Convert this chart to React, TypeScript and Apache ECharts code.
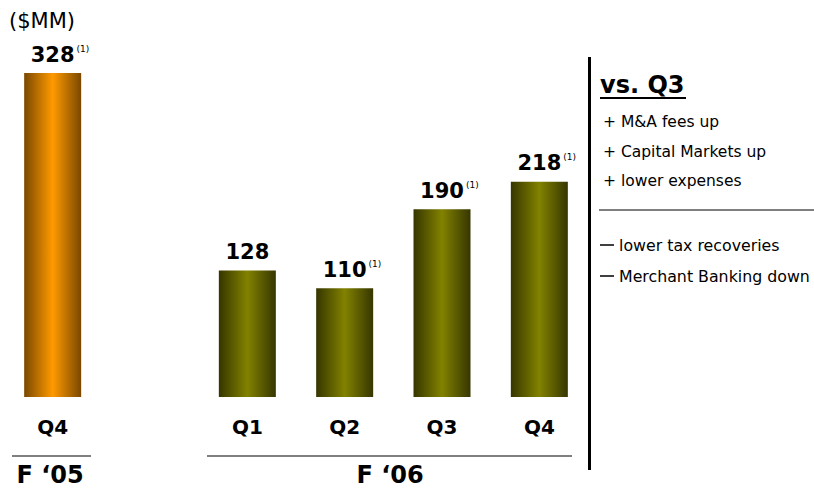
import React, { useEffect, useRef } from "react";
import * as echarts from "echarts";

const categories = ["Q4", "", "Q1", "Q2", "Q3", "Q4"];
const values: (number | null)[] = [328, null, 128, 110, 190, 218];
const hasNote = [true, false, false, true, true, true];
const isPrior = [true, false, false, false, false, false];
const yearLabels = ["F \u201805", "F \u201806"];
const panelTitle = "vs. Q3";
const positives = ["+ M&A fees up", "+ Capital Markets up", "+ lower expenses"];
const negatives = ["lower tax recoveries", "Merchant Banking down"];
const unitLabel = "($MM)";
const noteMark = "(1)";

const FONT = "DejaVu Sans, Verdana, sans-serif";

function grad(edge: string, mid: string) {
  return new echarts.graphic.LinearGradient(0, 0, 1, 0, [
    { offset: 0, color: edge },
    { offset: 0.5, color: mid },
    { offset: 1, color: edge },
  ]);
}

export default function App() {
  const ref = useRef<HTMLDivElement>(null);
  useEffect(() => {
    document.body.style.margin = "0";
    const chart = echarts.init(ref.current!, null, { renderer: "svg" });
    const data = values.map((v, i) =>
      v === null
        ? null
        : {
            value: v,
            itemStyle: {
              color: isPrior[i] ? grad("#7a4800", "#ff9a00") : grad("#363600", "#828200"),
            },
          }
    );
    const graphics: any[] = [
      { type: "text", x: 9, y: 21, style: { text: unitLabel, font: `21px ${FONT}`, fill: "#000", textVerticalAlign: "middle" } },
      { type: "line", shape: { x1: 12, y1: 456, x2: 91, y2: 456 }, style: { stroke: "#000", lineWidth: 1 } },
      { type: "line", shape: { x1: 207, y1: 456, x2: 572, y2: 456 }, style: { stroke: "#000", lineWidth: 1 } },
      { type: "text", x: 50, y: 475, style: { text: yearLabels[0], font: `bold 24px ${FONT}`, fill: "#000", textAlign: "center", textVerticalAlign: "middle" } },
      { type: "text", x: 390, y: 475, style: { text: yearLabels[1], font: `bold 24px ${FONT}`, fill: "#000", textAlign: "center", textVerticalAlign: "middle" } },
      { type: "rect", shape: { x: 588, y: 57, width: 3, height: 413 }, style: { fill: "#000" } },
      { type: "text", x: 600, y: 85, style: { text: panelTitle, font: `bold 24px ${FONT}`, fill: "#000", textVerticalAlign: "middle" } },
      { type: "line", shape: { x1: 600, y1: 98, x2: 686, y2: 98 }, style: { stroke: "#000", lineWidth: 2 } },
      { type: "line", shape: { x1: 599, y1: 210, x2: 814, y2: 210 }, style: { stroke: "#000", lineWidth: 1 } },
    ];
    positives.forEach((t, i) => {
      graphics.push({ type: "text", x: 603, y: 122 + i * 29.5, style: { text: t, font: `15.5px ${FONT}`, fill: "#000", textVerticalAlign: "middle" } });
    });
    negatives.forEach((t, i) => {
      const y = 245 + i * 31;
      graphics.push({ type: "line", shape: { x1: 600, y1: y, x2: 614, y2: y }, style: { stroke: "#000", lineWidth: 1.5 } });
      graphics.push({ type: "text", x: 619, y, style: { text: t, font: `15.8px ${FONT}`, fill: "#000", textVerticalAlign: "middle" } });
    });
    chart.setOption({
      animation: false,
      grid: { left: 4, right: 226, top: 73, bottom: 91 },
      xAxis: {
        type: "category",
        data: categories,
        axisLine: { show: false },
        axisTick: { show: false },
        axisLabel: { margin: 20, fontSize: 20, fontWeight: "bold", color: "#000", fontFamily: FONT },
      },
      yAxis: { type: "value", min: 0, max: 328, show: false, splitLine: { show: false } },
      series: [
        {
          type: "bar",
          data,
          barWidth: 57,
          label: {
            show: true,
            position: "top",
            distance: 8,
            formatter: (p: any) =>
              hasNote[p.dataIndex]
                ? `{sp|${noteMark}}{v|${p.value}}{n|${noteMark}}`
                : `{v|${p.value}}`,
            rich: {
              v: { fontSize: 21, fontWeight: "bold", color: "#000", fontFamily: FONT },
              n: { fontSize: 9, color: "#000", fontFamily: FONT, verticalAlign: "top", padding: [0, 0, 0, 2] },
              sp: { fontSize: 9, color: "rgba(0,0,0,0)", fontFamily: FONT, verticalAlign: "top", padding: [0, 2, 0, 0] },
            },
          },
        },
      ],
      graphic: graphics,
    });
    return () => chart.dispose();
  }, []);
  return <div ref={ref} style={{ width: 814, height: 488 }} />;
}
